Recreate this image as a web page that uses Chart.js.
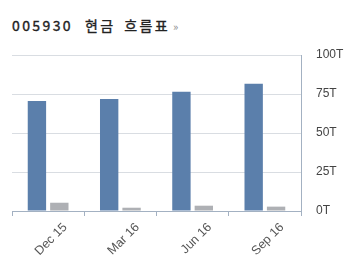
<!DOCTYPE html>
<html><head><meta charset="utf-8">
<script src="https://cdn.jsdelivr.net/npm/chart.js@4/dist/chart.umd.min.js"></script>
<style>
html,body{margin:0;padding:0;background:#fff;width:351px;height:257px;overflow:hidden}
#title{position:absolute;left:12px;top:15px;font-family:"Noto Sans CJK KR";font-size:14px;font-weight:normal;-webkit-text-stroke:0.35px #222;letter-spacing:2.4px;color:#222;white-space:nowrap;line-height:20px}
#title span{display:inline-block}
#title .w2{margin-left:12px}
#title .w3{margin-left:3px}
#title .arr{margin-left:3px;font-size:11px;font-weight:normal;-webkit-text-stroke:0;color:#8a8a8a;letter-spacing:0}
#wrap{position:absolute;left:0;top:0;width:351px;height:257px}
</style></head>
<body>
<div id="title"><span>005930</span><span class="w2">현금</span> <span class="w3">흐름표</span><span class="arr">»</span></div>
<div id="wrap"><canvas id="c" width="351" height="257"></canvas></div>
<script>
const categories = ['Dec 15', 'Mar 16', 'Jun 16', 'Sep 16'];
const seriesA = [70.5, 71.8, 76.5, 81.6];
const seriesB = [5.3, 2.1, 3.4, 2.8];
const yTicks = [0, 25, 50, 75, 100];
const tickSuffix = 'T';

const axisColor = '#a3b1c2';
new Chart(document.getElementById('c'), {
  type: 'bar',
  data: {
    labels: categories,
    datasets: [
      {data: seriesA, backgroundColor: '#5b7fab', categoryPercentage: 0.62, barPercentage: 0.82},
      {data: seriesB, backgroundColor: '#aeb0b4', categoryPercentage: 0.62, barPercentage: 0.82}
    ]
  },
  options: {
    responsive: false,
    animation: false,
    events: [],
    layout: {padding: {left: 12, top: 55, right: 0, bottom: 0}},
    plugins: {legend: {display: false}, tooltip: {enabled: false}, title: {display: false}},
    scales: {
      x: {
        grid: {drawOnChartArea: false, drawTicks: true, tickLength: 5, color: axisColor},
        border: {color: axisColor, width: 1},
        ticks: {maxRotation: 45, minRotation: 45, labelOffset: 17, padding: 4, color: '#555',
                font: {family: 'Liberation Sans', size: 12.5}},
        afterFit: s => { s.height = 46; }
      },
      y: {
        position: 'right',
        min: 0, max: 100,
        afterBuildTicks: s => { s.ticks = yTicks.map(v => ({value: v})); },
        grid: {color: '#d9dde2', drawTicks: false},
        border: {color: axisColor, width: 1},
        ticks: {padding: 15, color: '#444', font: {family: 'Liberation Sans Narrow, Liberation Sans', size: 12},
                callback: v => v + tickSuffix},
        afterFit: s => { s.width = 50; }
      }
    }
  }
});
</script>
</body></html>
